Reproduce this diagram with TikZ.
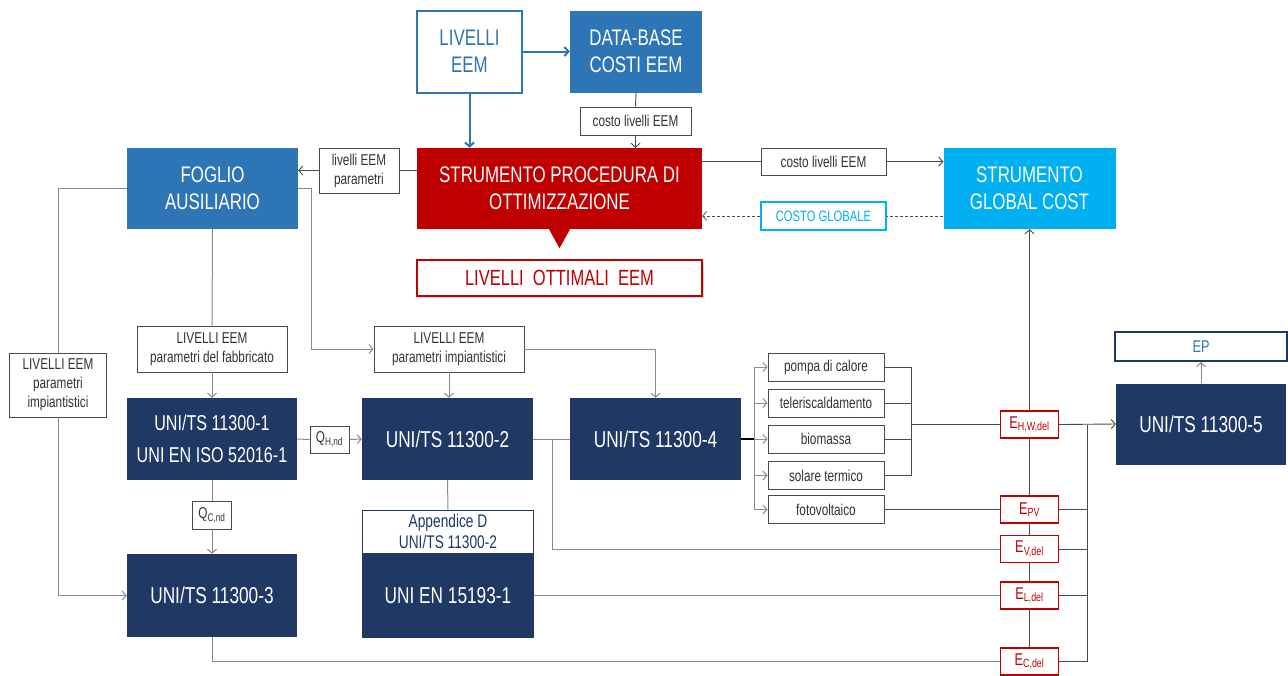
\documentclass[tikz,border=0pt]{standalone}
\usepackage{fontspec}
\setmainfont{Liberation Sans}[FakeStretch=0.75]
\usetikzlibrary{arrows.meta,shadows}

\definecolor{blueM}{HTML}{2E75B6}
\definecolor{cyanG}{HTML}{00B0F0}
\definecolor{redS}{HTML}{C00000}
\definecolor{navyU}{HTML}{203864}
\definecolor{lineG}{HTML}{8A8A8A}
\definecolor{lineD}{HTML}{4A4A4A}

\newcommand{\ftitle}{\fontsize{22.5pt}{27pt}\selectfont}
\newcommand{\funi}{\fontsize{23pt}{27pt}\selectfont}
\newcommand{\flab}{\fontsize{15.7pt}{19pt}\selectfont}
\newcommand{\fen}{\fontsize{17pt}{19pt}\selectfont}

\begin{document}
\begin{tikzpicture}[x=1pt, y=-1pt, >={Straight Barb[length=4pt,width=9pt]},
  every node/.style={align=center, inner sep=0pt},
  dim/.style 2 args={minimum width=#1pt, minimum height=#2pt},
  title/.style={font=\ftitle, text=white},
  unibox/.style={fill=navyU, text=white, font=\funi},
  lab/.style={draw=lineD, line width=0.9pt, fill=white, font=\flab, text=black!80},
  ebox/.style={dim={58}{27}, draw=redS, line width=1.3pt, fill=white, text=redS, font=\fen},
  ln/.style={draw=lineG, line width=1pt},
  lnd/.style={draw=lineD, line width=0.9pt},
  blueln/.style={draw=blueM, line width=2pt}]
  \useasboundingbox (0,0) rectangle (1288,675);

  % top row
  \node[dim={105}{82}, draw=blueM, line width=2pt, fill=white, text=blueM, font=\ftitle] (livEEM) at (469.5,51.5) {LIVELLI\\EEM};
  \node[dim={132}{82}, fill=blueM, title] (dbCost) at (636,51.5) {DATA-BASE\\COSTI EEM};
  \node[lab, dim={111}{28}] (costoA) at (635.5,121) {costo livelli EEM};

  % optimisation tool
  \node[dim={285}{81}, fill=redS, title] (strum) at (559.5,188.5) {STRUMENTO PROCEDURA DI\\OTTIMIZZAZIONE};
  \fill[redS] ([xshift=-10.5pt]strum.south) -- ([xshift=10.5pt]strum.south) -- ([yshift=-19pt]strum.south) -- cycle;
  \node[dim={285}{36}, draw=redS, line width=2pt, fill=white, text=redS, font=\fontsize{22pt}{26pt}\selectfont,
    drop shadow={opacity=0.35, shadow xshift=1.5pt, shadow yshift=-1.5pt}] (ottim) at (559.5,278) {LIVELLI\ \ OTTIMALI\ \ EEM};
  \node[lab, dim={125}{27}] (costoB) at (823.5,161.5) {costo livelli EEM};
  \node[dim={125}{28}, draw=cyanG, line width=2.2pt, fill=white, text=cyanG, font=\fontsize{15pt}{17pt}\selectfont] (costoGlob) at (823.5,216) {COSTO GLOBALE};
  \node[dim={172}{81}, fill=cyanG, title] (globCost) at (1029.5,188.5) {STRUMENTO\\GLOBAL COST};

  % auxiliary sheet
  \node[dim={171}{81}, fill=blueM, title] (foglio) at (212.5,188.5) {FOGLIO\\AUSILIARIO};
  \node[lab, dim={80}{45}] (livPar) at (359,170.5) {livelli EEM\\parametri};
  \node[lab, dim={97}{64}] (livImpL) at (58,385) {LIVELLI EEM\\parametri\\impiantistici};
  \node[lab, dim={150}{46}] (livFab) at (212,349) {LIVELLI EEM\\parametri del fabbricato};
  \node[lab, dim={150}{46}] (livImpM) at (449,349) {LIVELLI EEM\\parametri impiantistici};

  % standards
  \node[unibox, dim={170}{82}, font=\fontsize{21.5pt}{32pt}\selectfont] (uni1) at (212,439) {UNI/TS 11300-1\\UNI EN ISO 52016-1};
  \node[lab, dim={39}{27}] (qH) at (329.5,439.5) {Q\textsubscript{H,nd}};
  \node[unibox, dim={171}{82}] (uni2) at (447.5,439) {UNI/TS 11300-2};
  \node[unibox, dim={171}{82}] (uni4) at (655.5,439) {UNI/TS 11300-4};
  \node[lab, dim={39}{28}] (qC) at (212,515) {Q\textsubscript{C,nd}};
  \node[unibox, dim={170}{83}] (uni3) at (212,595.5) {UNI/TS 11300-3};
  \node[dim={171}{43}, draw=navyU, line width=1pt, fill=white, text=navyU, font=\fontsize{18.3pt}{21pt}\selectfont] (appD) at (448,531.5) {Appendice D\\UNI/TS 11300-2};
  \node[unibox, dim={172}{84}] (en15193) at (448,595.5) {UNI EN 15193-1};
  \node[unibox, dim={170}{81}] (uni5) at (1201,424) {UNI/TS 11300-5};
  \node[dim={172}{29}, draw=navyU, line width=2pt, fill=white, text=blueM, font=\fen] (ep) at (1201,346.5) {EP};

  % generators
  \node[lab, dim={116}{28}] (pompa) at (826,367) {pompa di calore};
  \node[lab, dim={116}{28}] (teleri) at (826,403) {teleriscaldamento};
  \node[lab, dim={116}{28}] (biom) at (826,439) {biomassa};
  \node[lab, dim={116}{28}] (solare) at (826,475.5) {solare termico};
  \node[lab, dim={116}{28}] (fotov) at (826,509.5) {fotovoltaico};

  % delivered energy
  \node[ebox] (eHW) at (1029.5,424.5) {E\textsubscript{H,W,del}};
  \node[ebox] (ePV) at (1029.5,509.5) {E\textsubscript{PV}};
  \node[ebox] (eV) at (1029.5,549) {E\textsubscript{V,del}};
  \node[ebox] (eL) at (1029.5,595.5) {E\textsubscript{L,del}};
  \node[ebox] (eC) at (1029.5,661.5) {E\textsubscript{C,del}};

  % connectors: top
  \draw[blueln,->] (livEEM.east) -- (dbCost.west);
  \draw[blueln,->] (livEEM.south) -- (livEEM.south |- strum.north);
  \draw[lnd] (dbCost.south) -- (costoA.north);
  \draw[lnd,->] (costoA.south) -- (costoA.south |- strum.north);
  \draw[lnd] (costoB.west -| strum.east) -- (costoB.west);
  \draw[lnd,->] (costoB.east) -- (costoB.east -| globCost.west);
  \draw[lnd,line width=0.7pt,dash pattern=on 3pt off 2pt] (costoGlob.east -| globCost.west) -- (costoGlob.east);
  \draw[lnd,line width=0.7pt,dash pattern=on 3pt off 2pt,->] (costoGlob.west) -- (costoGlob.west -| strum.east);
  \draw[lnd] (livPar.east -| strum.west) -- (livPar.east);
  \draw[lnd,->] (livPar.west) -- (livPar.west -| foglio.east);

  % connectors: auxiliary sheet
  \draw[ln,->] (foglio.east) -- ++(13,0) |- (livImpM.west);
  \draw[ln] (foglio.south) -- (livFab.north);
  \draw[ln,->] (livFab.south) -- (uni1.north);
  \draw[ln] (foglio.west) -| (livImpL.north);
  \draw[ln,->] (livImpL.south) |- (uni3.west);

  % connectors: standards
  \draw[ln] (uni1.east) -- (qH.west);
  \draw[ln,->] (qH.east) -- (uni2.west);
  \draw[ln] (uni1.south) -- (qC.north);
  \draw[ln,->] (qC.south) -- (uni3.north);
  \draw[ln,->] (livImpM.south) -- (livImpM.south |- uni2.north);
  \draw[ln,->] (livImpM.east) -| (uni4.north);
  \draw[ln] (uni2.east) -- (uni4.west);
  \draw[ln] (uni2.south) -- (appD.north);
  \coordinate (jV) at (552,439);
  \draw[ln] (jV) |- (eV.west);
  \draw[ln] (en15193.east) -- (eL.west);
  \draw[ln] (uni3.south) |- (eC.west);

  % connectors: generators
  \coordinate (busG) at (754.5,439);
  \draw[draw=black,line width=1.2pt] (uni4.east) -- (busG);
  \foreach \g in {pompa,teleri,biom,solare,fotov}
    \draw[ln,->] (busG) |- (\g.west);
  \coordinate (colH) at (911,424.5);
  \draw[lnd] (pompa.east) -| (colH);
  \draw[lnd] (solare.east) -| (colH);
  \foreach \g in {teleri,biom}
    \draw[lnd] (\g.east) -- (\g.east -| colH);
  \draw[lnd] (colH) -- (eHW.west);
  \draw[lnd] (fotov.east) -- (ePV.west);

  % connectors: delivered energy
  \draw[lnd,->] (eHW.north) -- (globCost.south);
  \draw[lnd] (eHW.south) -- (ePV.north) (ePV.south) -- (eV.north)
    (eV.south) -- (eL.north) (eL.south) -- (eC.north);
  \coordinate (busR) at (1087,424.5);
  \draw[lnd,->] (eHW.east) -- (uni5.west);
  \draw[lnd] (busR) |- (eC.east);
  \foreach \e in {ePV,eV,eL}
    \draw[lnd] (\e.east) -- (\e.east -| busR);
  \draw[ln,->] (uni5.north) -- (ep.south);
\end{tikzpicture}
\end{document}
